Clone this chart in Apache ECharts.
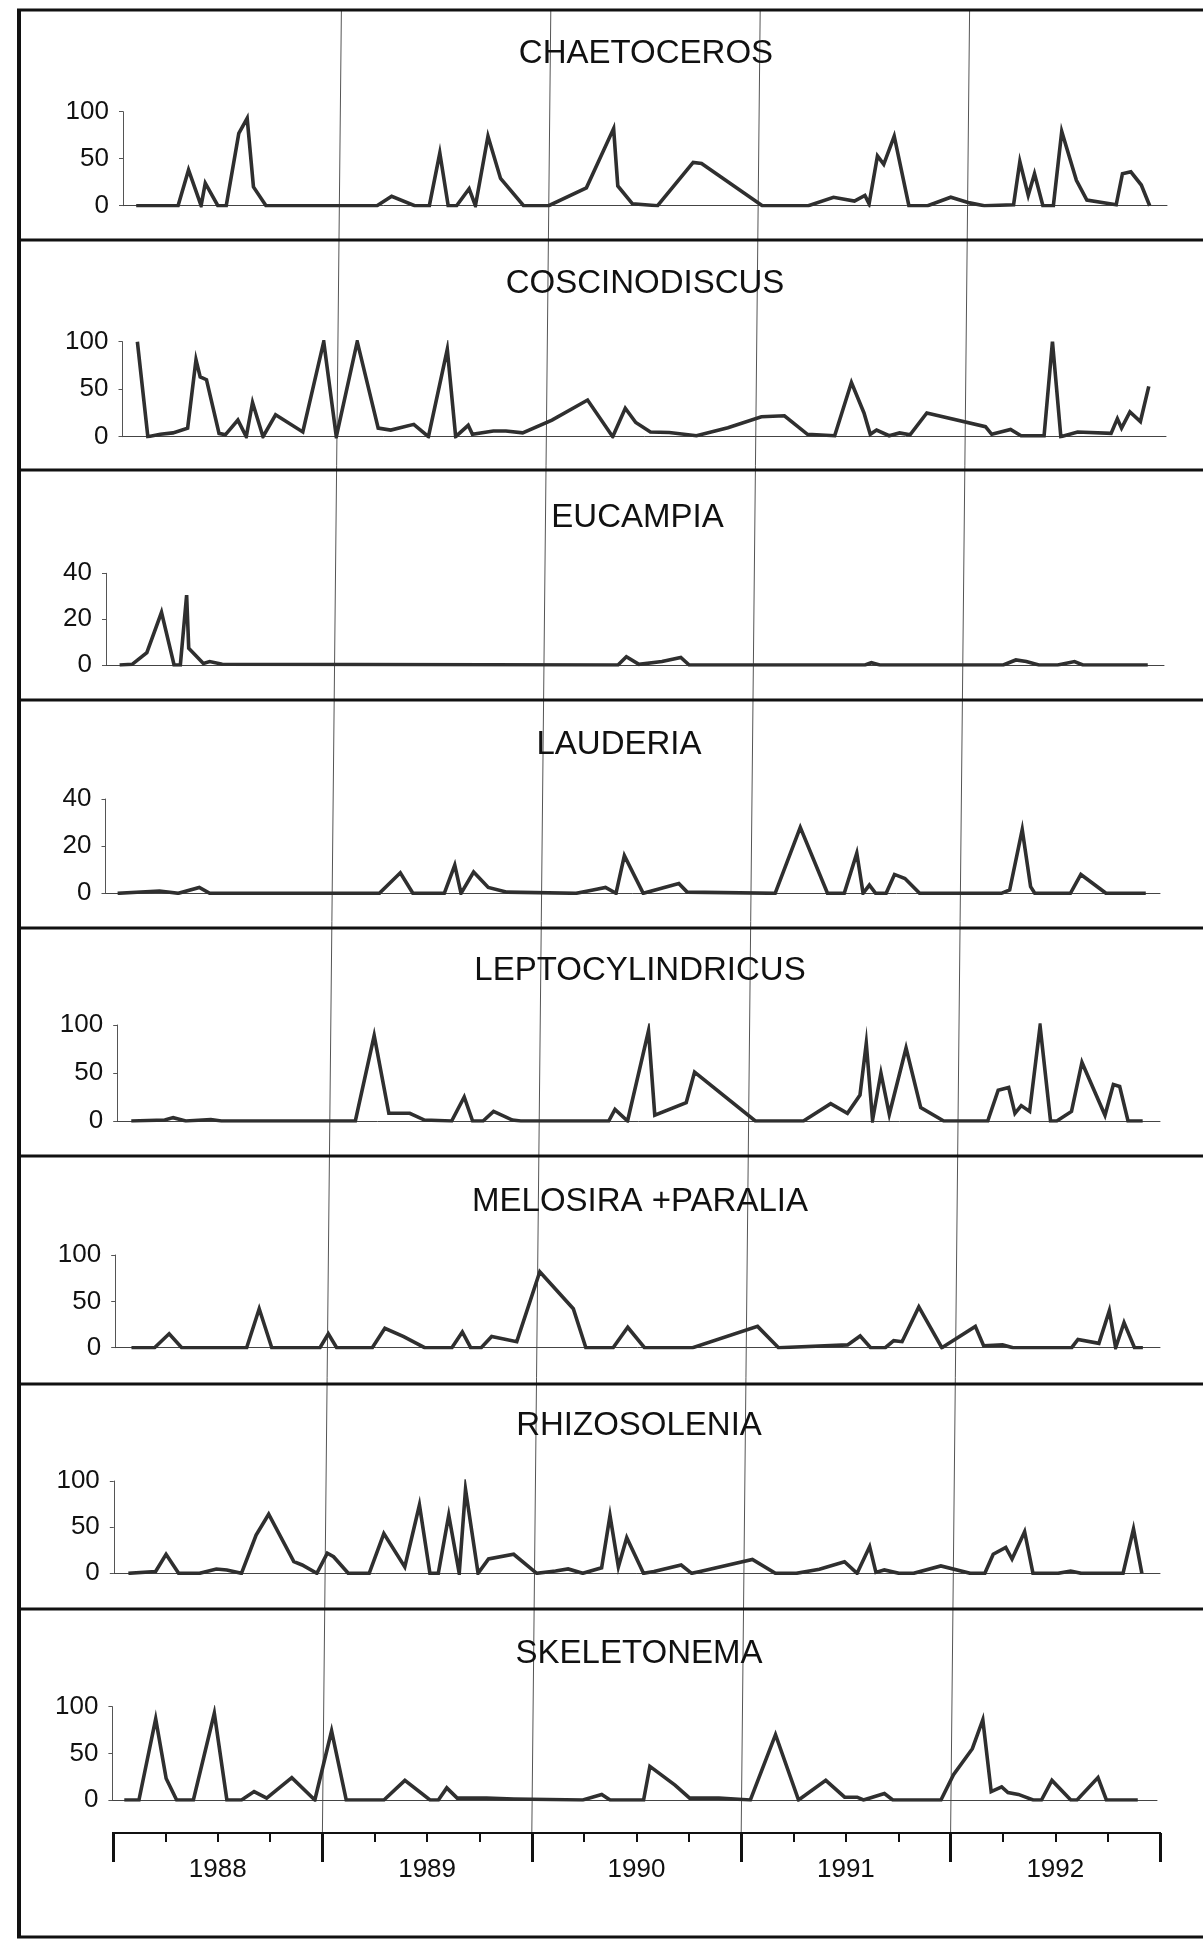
<!DOCTYPE html>
<html><head><meta charset="utf-8">
<script src="https://cdn.jsdelivr.net/npm/echarts@6/dist/echarts.min.js"></script>
<style>html,body{margin:0;padding:0;background:#fff}#c{width:1203px;height:1944px}</style>
</head><body><div id="c"></div>
<script>
// ---------------- DATA ----------------
const taxa = ['CHAETOCEROS','COSCINODISCUS','EUCAMPIA','LAUDERIA','LEPTOCYLINDRICUS','MELOSIRA +PARALIA','RHIZOSOLENIA','SKELETONEMA'];
const yMax  = [100,100,40,40,100,100,100,100];
const yStep = [50,50,20,20,50,50,50,50];
const yearLabels = ['1988','1989','1990','1991','1992'];

const chaetocerosT = [1988.02,1988.22,1988.27,1988.33,1988.35,1988.41,1988.45,1988.51,1988.55,1988.58,1988.64,1989.17,1989.24,1989.35,1989.42,1989.47,1989.51,1989.55,1989.61,1989.64,1989.70,1989.76,1989.87,1989.99,1990.17,1990.30,1990.32,1990.39,1990.51,1990.68,1990.72,1991.01,1991.23,1991.35,1991.45,1991.50,1991.52,1991.56,1991.59,1991.64,1991.71,1991.80,1991.91,1992.00,1992.07,1992.21,1992.24,1992.28,1992.31,1992.35,1992.40,1992.44,1992.51,1992.56,1992.70,1992.73,1992.77,1992.82,1992.86];
const chaetocerosV = [0,0,38,0,24,0,0,77,93,20,0,0,10,0,0,56,0,0,18,0,74,29,0,0,19,82,21,2,0,46,45,0,0,9,5,11,2,53,44,74,0,0,9,3,0,1,47,11,34,0,0,79,27,6,1,34,36,22,0];

const coscinodiscusT = [1988.04,1988.09,1988.15,1988.21,1988.28,1988.32,1988.34,1988.37,1988.43,1988.46,1988.52,1988.56,1988.59,1988.64,1988.70,1988.83,1988.93,1988.99,1989.09,1989.19,1989.25,1989.36,1989.43,1989.52,1989.56,1989.62,1989.64,1989.74,1989.80,1989.88,1990.02,1990.19,1990.31,1990.37,1990.42,1990.49,1990.58,1990.71,1990.86,1991.02,1991.13,1991.24,1991.37,1991.45,1991.51,1991.54,1991.57,1991.63,1991.68,1991.73,1991.81,1992.09,1992.12,1992.21,1992.26,1992.37,1992.41,1992.45,1992.53,1992.69,1992.72,1992.74,1992.78,1992.83,1992.87];
const coscinodiscusV = [100,0,2.5,4,9,81,63,60,3.5,2,17.5,0,36,0,23,5,100,0,100,9,7,13,0,92,0,12,2.5,6,6,4,17.5,38.6,0,30,15,5,4.5,1,9.5,21,22,2.5,1,57,25,2.5,7,1,4,2,25,10.5,2.5,7.7,1,1,100,0,5,3.5,19,9,26,16,53];

const eucampiaT = [1987.96,1988.02,1988.09,1988.16,1988.22,1988.25,1988.28,1988.29,1988.36,1988.39,1988.45,1990.34,1990.38,1990.44,1990.55,1990.64,1990.68,1991.52,1991.55,1991.59,1992.18,1992.24,1992.29,1992.35,1992.44,1992.52,1992.56,1992.87];
const eucampiaV = [0,0.3,5.4,23,0,0,30.5,7.3,0.7,1.5,0.3,0,3.6,0.3,1.5,3.3,0,0,1,0,0,2.2,1.5,0,0,1.5,0,0];

const lauderiaT = [1987.96,1988.16,1988.25,1988.35,1988.40,1989.21,1989.31,1989.37,1989.52,1989.57,1989.60,1989.66,1989.73,1989.82,1990.15,1990.23,1990.29,1990.34,1990.38,1990.47,1990.64,1990.68,1991.10,1991.22,1991.35,1991.43,1991.49,1991.52,1991.55,1991.58,1991.63,1991.67,1991.72,1991.79,1992.18,1992.22,1992.28,1992.32,1992.34,1992.51,1992.56,1992.68,1992.87];
const lauderiaV = [0,1,0,2.5,0,0,8.7,0,0,12,0,9,2.5,0.5,0,1.4,2.5,0,16,0,4.2,0.5,0,28,0,0,17,0,3.5,0,0,8,6.3,0,0,1.4,27,2.8,0,0,8,0,0];

const leptocylindricusT = [1988.03,1988.19,1988.23,1988.29,1988.41,1988.46,1989.10,1989.19,1989.26,1989.36,1989.43,1989.56,1989.62,1989.66,1989.71,1989.76,1989.85,1989.89,1990.31,1990.34,1990.40,1990.50,1990.53,1990.68,1990.72,1991.01,1991.24,1991.37,1991.45,1991.51,1991.54,1991.57,1991.61,1991.65,1991.73,1991.80,1991.91,1992.12,1992.17,1992.22,1992.25,1992.28,1992.32,1992.37,1992.42,1992.45,1992.52,1992.57,1992.68,1992.72,1992.75,1992.79,1992.86];
const leptocylindricusV = [0,1,3.5,0,1.5,0,0,89,8,8,1,0,25,0,0,10,1,0,0,12,0,94,6,19,51,0,0,18,8,27,81,1,50,7,76,14,0,0,32,35,8,16,10,99,0,0,10,61,6,38,36,0,0];

const melosiraT = [1988.05,1988.16,1988.23,1988.29,1988.60,1988.66,1988.72,1988.95,1988.99,1989.03,1989.20,1989.26,1989.35,1989.45,1989.58,1989.63,1989.67,1989.72,1989.77,1989.89,1990.00,1990.16,1990.22,1990.35,1990.42,1990.50,1990.73,1991.04,1991.14,1991.47,1991.53,1991.58,1991.65,1991.69,1991.73,1991.81,1991.92,1992.08,1992.12,1992.21,1992.26,1992.54,1992.57,1992.67,1992.72,1992.75,1992.79,1992.84,1992.88];
const melosiraV = [0,0,15,0,0,42,0,0,15,0,0,21,12,0,0,17,0,0,12,6.5,82,42,0,0,22,0,0,23,0,3,12.6,0,0,7.6,6.5,44,0,23,2,3,0,0,9,4.7,40,0,27,0,0];

const rhizosoleniaT = [1988.04,1988.17,1988.22,1988.28,1988.38,1988.46,1988.51,1988.58,1988.65,1988.71,1988.83,1988.87,1988.94,1988.99,1989.02,1989.09,1989.19,1989.26,1989.36,1989.43,1989.48,1989.52,1989.57,1989.62,1989.65,1989.71,1989.76,1989.88,1989.99,1990.08,1990.14,1990.21,1990.30,1990.34,1990.38,1990.42,1990.50,1990.55,1990.68,1990.73,1990.77,1991.02,1991.13,1991.23,1991.34,1991.46,1991.52,1991.58,1991.61,1991.65,1991.72,1991.79,1991.92,1992.06,1992.13,1992.17,1992.23,1992.26,1992.32,1992.36,1992.48,1992.54,1992.59,1992.79,1992.84,1992.88];
const rhizosoleniaV = [0,2,20.6,0,0,4.7,3.6,0,41.5,64,12.6,9,0,21.7,18,0,0,43,7,74,0,0,63,0,91,0,15.5,20.6,0,2.5,4.7,0,6,62.5,7,38.6,0,2,9,0,2,15,0,0,4.3,12.6,0,29,1,3.6,0,0,8,0,0,20.6,28,15.5,45,0,0,2.5,0,0,48,0];

const skeletonemaT = [1988.03,1988.10,1988.18,1988.23,1988.28,1988.36,1988.46,1988.52,1988.59,1988.65,1988.71,1988.83,1988.94,1989.02,1989.09,1989.27,1989.37,1989.49,1989.53,1989.57,1989.62,1989.76,1989.89,1990.22,1990.31,1990.35,1990.51,1990.54,1990.66,1990.73,1990.87,1991.02,1991.14,1991.25,1991.38,1991.47,1991.53,1991.56,1991.66,1991.70,1991.93,1991.99,1992.08,1992.13,1992.17,1992.22,1992.25,1992.30,1992.37,1992.41,1992.46,1992.55,1992.58,1992.68,1992.72,1992.87];
const skeletonemaV = [0,0,87,23,0,0,93,0,0,9,2,24,0,74,0,0,21,0,0,13,2,2,1,0,6,0,0,36,16,2,2,0,70,0,21,3,3,0,7,0,0,27,55,86,9,14,8,6,0,0,21,0,0,24,0,0];

const seriesT = [chaetocerosT,coscinodiscusT,eucampiaT,lauderiaT,leptocylindricusT,melosiraT,rhizosoleniaT,skeletonemaT];
const seriesV = [chaetocerosV,coscinodiscusV,eucampiaV,lauderiaV,leptocylindricusV,melosiraV,rhizosoleniaV,skeletonemaV];

// ---------------- LAYOUT ----------------
const FONT = "'Liberation Sans', Arial, sans-serif";
const AX0 = 113, SCALE = 209.4, AXIS_Y = 1833;
const layout = [
  {left:123,   right:1167, top:111.7,  bottom:205.7,  shift:19, tx:646,   ty:54},
  {left:122.5, right:1166, top:341.7,  bottom:436.7,  shift:16, tx:645,   ty:284},
  {left:106,   right:1164, top:573.3,  bottom:665,    shift:15, tx:637.5, ty:517.5},
  {left:105.5, right:1160, top:799,    bottom:893.3,  shift:13, tx:619,   ty:745},
  {left:117.2, right:1160, top:1025,   bottom:1121,   shift:12, tx:640,   ty:971},
  {left:115.2, right:1160, top:1255,   bottom:1347.7, shift:8,  tx:640,   ty:1202},
  {left:113.8, right:1160, top:1481,   bottom:1573.3, shift:7,  tx:639,   ty:1426},
  {left:112.4, right:1157, top:1706.7, bottom:1800,   shift:5,  tx:639,   ty:1654}
];
const separators = [240,470,700,928,1156,1384,1609];

const grids=[], xAxes=[], yAxes=[], series=[], graphics=[];
layout.forEach((L,i)=>{
  grids.push({left:L.left, top:L.top, width:L.right-L.left, height:L.bottom-L.top});
  xAxes.push({gridIndex:i, type:'value',
    min:1988+(L.left-AX0-L.shift)/SCALE, max:1988+(L.right-AX0-L.shift)/SCALE,
    axisLine:{show:true,onZero:false,lineStyle:{color:'#444',width:1}},
    axisTick:{show:false}, axisLabel:{show:false}, splitLine:{show:false}});
  yAxes.push({gridIndex:i, type:'value', min:0, max:yMax[i], interval:yStep[i],
    axisLine:{show:true,lineStyle:{color:'#555',width:1}},
    axisTick:{show:true,length:4,lineStyle:{color:'#555',width:1}},
    axisLabel:{fontSize:26,color:'#111',margin:14,fontFamily:FONT},
    splitLine:{show:false}});
  series.push({type:'line', xAxisIndex:i, yAxisIndex:i,
    data: seriesT[i].map((t,k)=>[t, seriesV[i][k]]),
    symbol:'none', silent:true,
    lineStyle:{color:'#2f2f2f',width:3.6,join:'miter'}});
  graphics.push({type:'text', x:L.tx, y:L.ty, silent:true,
    style:{text:taxa[i], fill:'#111', fontSize:33, fontFamily:FONT,
      align:'center', verticalAlign:'middle', textAlign:'center', textVerticalAlign:'middle'}});
});

// bottom time axis
grids.push({left:AX0, top:AXIS_Y-1, width:5*SCALE, height:1});
xAxes.push({gridIndex:8, type:'category', data:yearLabels, boundaryGap:true, position:'bottom',
  axisLine:{show:true,lineStyle:{color:'#111',width:2}},
  axisTick:{show:true,length:29,lineStyle:{color:'#111',width:3}},
  axisLabel:{fontSize:26,color:'#111',margin:24,fontFamily:FONT},
  splitLine:{show:false}});
xAxes.push({gridIndex:8, type:'value', min:1988, max:1993, interval:0.25, position:'top',
  axisLine:{show:false}, axisTick:{show:true,inside:true,length:10,lineStyle:{color:'#111',width:2}},
  axisLabel:{show:false}, splitLine:{show:false}});
yAxes.push({gridIndex:8, type:'value', show:false});

// frame
const FR_L = 19, FR_R = 1210, FR_T = 10, FR_B = 1937;
graphics.push({type:'line', silent:true, shape:{x1:FR_L,y1:FR_T,x2:FR_L,y2:FR_B}, style:{stroke:'#111',lineWidth:4}});
graphics.push({type:'line', silent:true, shape:{x1:FR_L-2,y1:FR_T,x2:FR_R,y2:FR_T}, style:{stroke:'#111',lineWidth:3}});
graphics.push({type:'line', silent:true, shape:{x1:FR_L-2,y1:FR_B,x2:FR_R,y2:FR_B}, style:{stroke:'#111',lineWidth:3}});
separators.forEach(y=>graphics.push({type:'line', silent:true, shape:{x1:FR_L,y1:y,x2:FR_R,y2:y}, style:{stroke:'#111',lineWidth:3}}));

const chart = echarts.init(document.getElementById('c'), null, {renderer:'canvas'});
chart.setOption({animation:false, backgroundColor:'#fff', grid:grids, xAxis:xAxes, yAxis:yAxes, series:series, graphic:graphics});

// year boundary lines (slightly slanted as in the scanned figure)
const yearLines = [1989,1990,1991,1992].map(yr=>{
  const xb = chart.convertToPixel({xAxisIndex:9}, yr);
  return {type:'line', silent:true, z:-1, shape:{x1:xb+19,y1:FR_T,x2:xb,y2:AXIS_Y}, style:{stroke:'#555',lineWidth:1}};
});
chart.setOption({graphic: graphics.concat(yearLines)});
</script></body></html>
